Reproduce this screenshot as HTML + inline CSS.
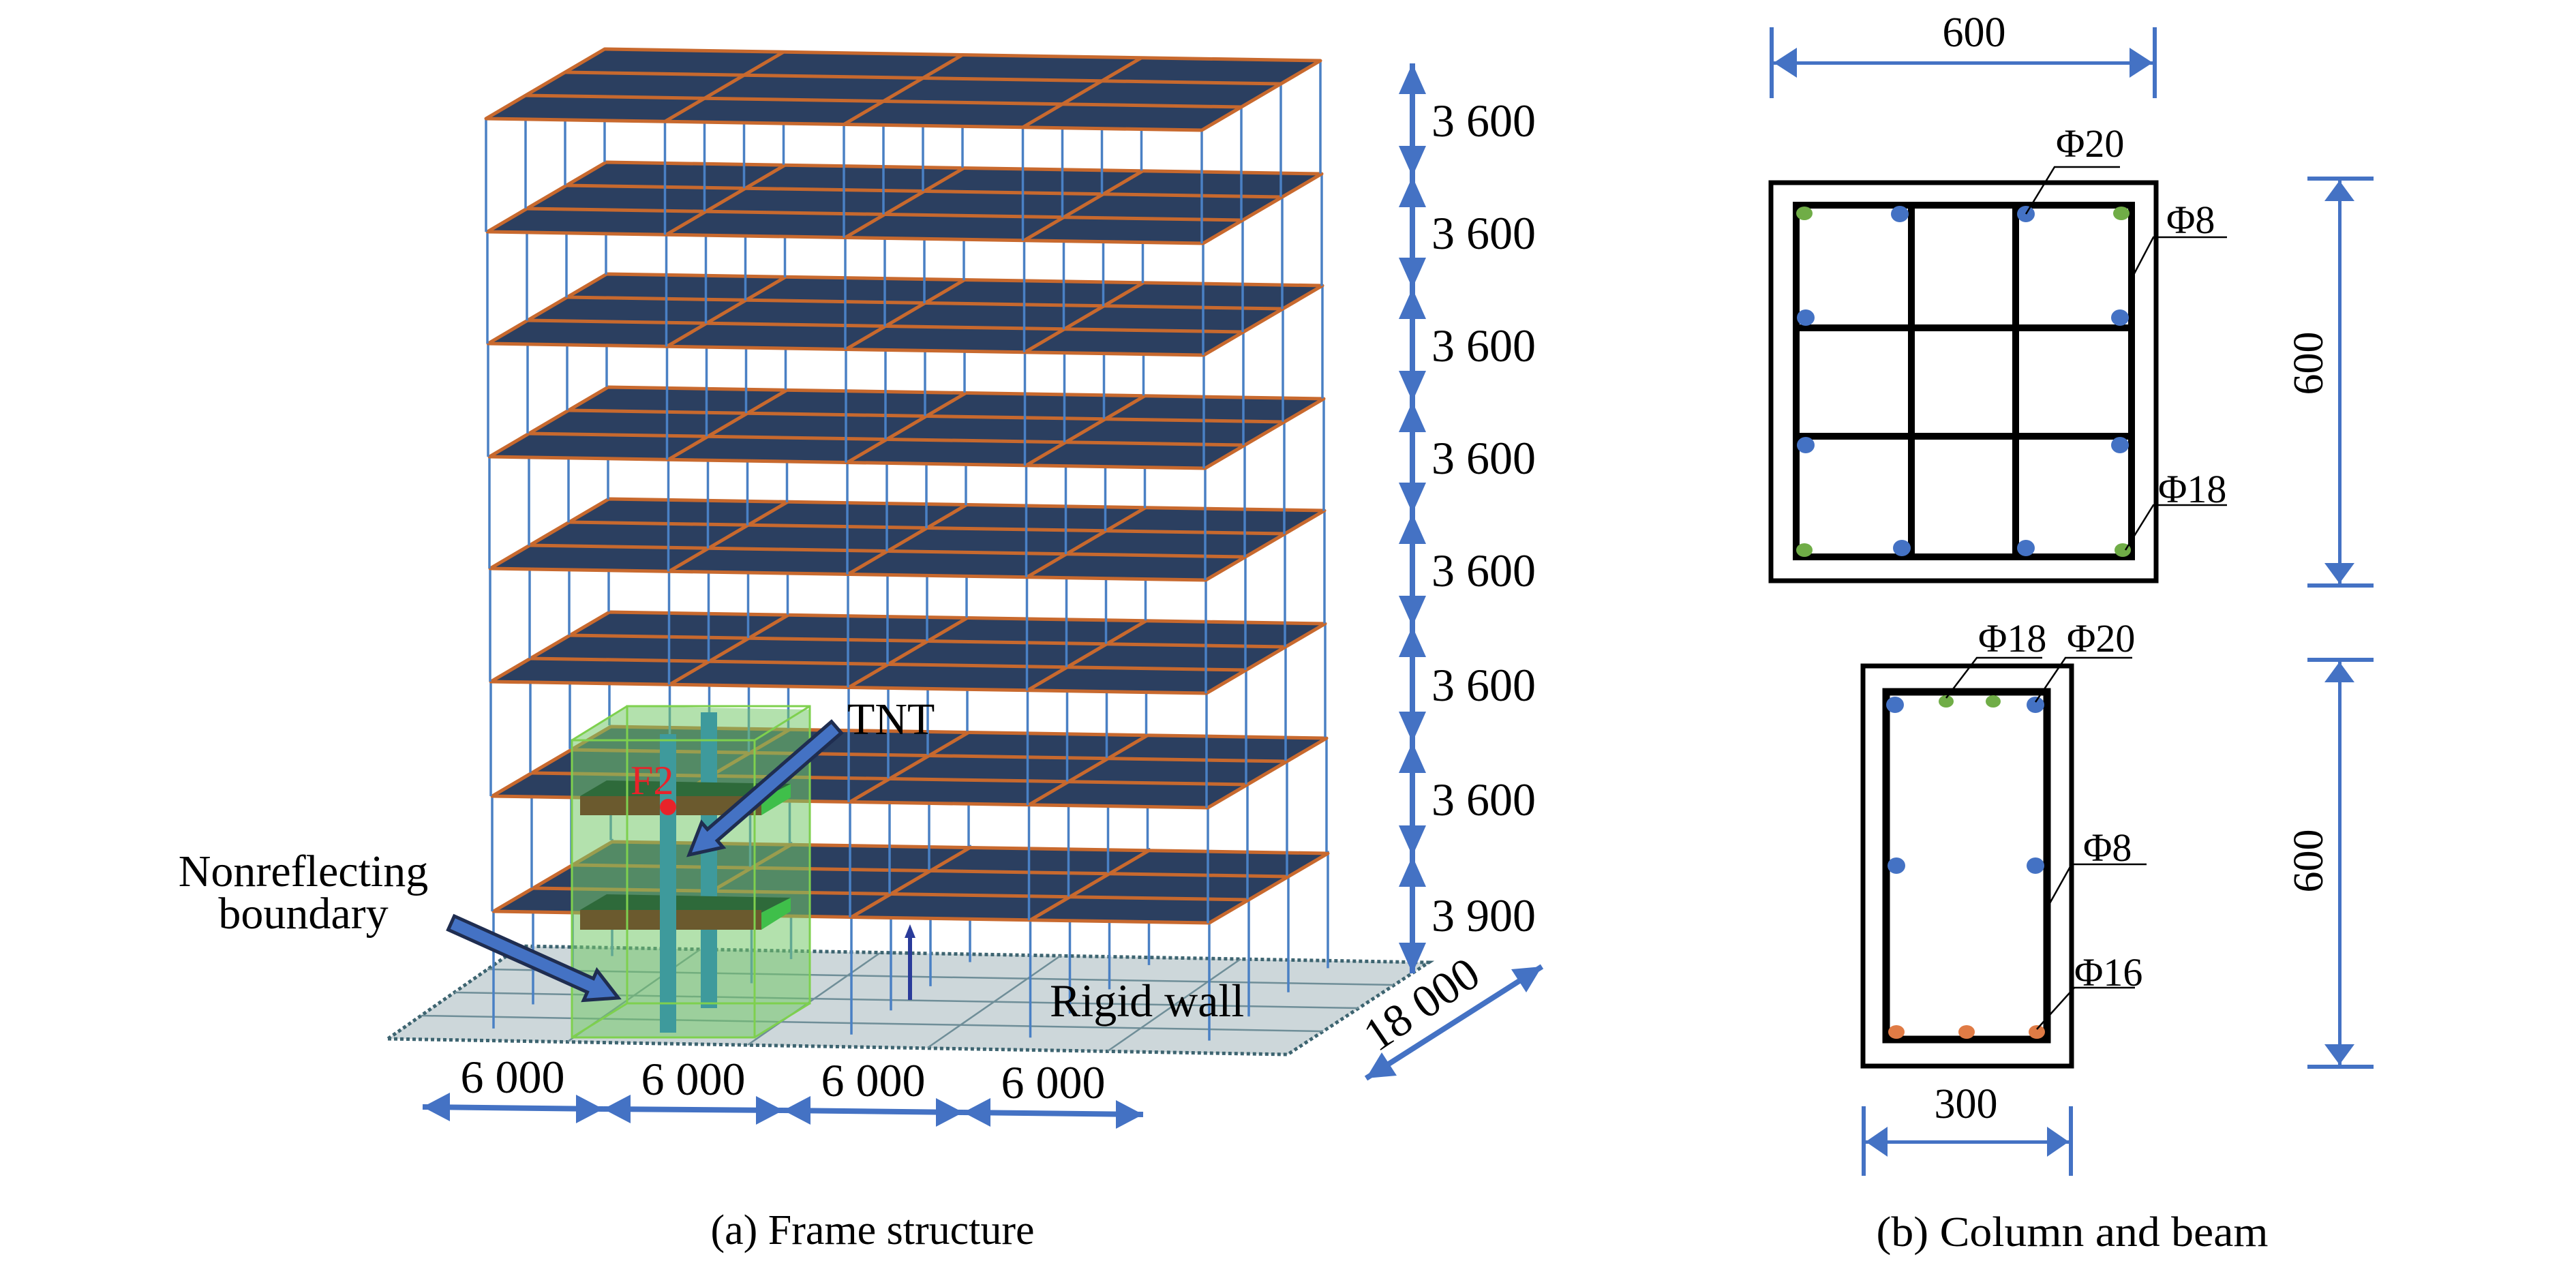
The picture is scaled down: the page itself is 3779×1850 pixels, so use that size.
<!DOCTYPE html>
<html><head><meta charset="utf-8"><style>html,body{margin:0;padding:0;background:#fff}svg{display:block}</style></head>
<body>
<svg xmlns="http://www.w3.org/2000/svg" xmlns:xlink="http://www.w3.org/1999/xlink" width="3779" height="1850" viewBox="0 0 3779 1850">
<defs>
<g id="slab">
<polygon points="0,0 1050,17 1224,-85 174,-102" fill="#2b3f60" stroke="#c8692e" stroke-width="5" stroke-linejoin="round"/>
<g stroke="#c8692e" stroke-width="5">
<line x1="262.5" y1="4.25" x2="436.5" y2="-97.75"/>
<line x1="525" y1="8.5" x2="699" y2="-93.5"/>
<line x1="787.5" y1="12.75" x2="961.5" y2="-89.25"/>
<line x1="58" y1="-34" x2="1108" y2="-17"/>
<line x1="116" y1="-68" x2="1166" y2="-51"/>
</g></g>
<g id="cols" stroke="#4a80c4" stroke-width="3.5">
<line x1="0" y1="0" x2="0" y2="165"/><line x1="58" y1="-34" x2="58" y2="131"/><line x1="116" y1="-68" x2="116" y2="97"/><line x1="174" y1="-102" x2="174" y2="63"/>
<line x1="262.5" y1="4.25" x2="262.5" y2="169.25"/><line x1="320.5" y1="-29.75" x2="320.5" y2="135.25"/><line x1="378.5" y1="-63.75" x2="378.5" y2="101.25"/><line x1="436.5" y1="-97.75" x2="436.5" y2="67.25"/>
<line x1="525" y1="8.5" x2="525" y2="173.5"/><line x1="583" y1="-25.5" x2="583" y2="139.5"/><line x1="641" y1="-59.5" x2="641" y2="105.5"/><line x1="699" y1="-93.5" x2="699" y2="71.5"/>
<line x1="787.5" y1="12.75" x2="787.5" y2="177.75"/><line x1="845.5" y1="-21.25" x2="845.5" y2="143.75"/><line x1="903.5" y1="-55.25" x2="903.5" y2="109.75"/><line x1="961.5" y1="-89.25" x2="961.5" y2="75.75"/>
<line x1="1050" y1="17" x2="1050" y2="182"/><line x1="1108" y1="-17" x2="1108" y2="148"/><line x1="1166" y1="-51" x2="1166" y2="114"/><line x1="1224" y1="-85" x2="1224" y2="80"/>
</g>
</defs>

<!-- ground plane -->
<polygon points="569,1524 1889,1547 2096,1412 764,1388" fill="#cdd7da" stroke="#3d6470" stroke-width="5" stroke-dasharray="5,4"/>
<g stroke="#6f8e98" stroke-width="2.5" fill="none">
<line x1="618" y1="1490" x2="1941" y2="1513"/><line x1="667" y1="1456" x2="1993" y2="1479"/><line x1="715" y1="1422" x2="2044" y2="1445"/>
<line x1="833" y1="1528" x2="1027" y2="1393"/><line x1="1097" y1="1533" x2="1291" y2="1398"/><line x1="1361" y1="1537" x2="1556" y2="1402"/><line x1="1625" y1="1542" x2="1820" y2="1407"/>
</g>

<!-- building -->
<use xlink:href="#cols" transform="translate(724,1337) scale(1,1.042)"/>
<use xlink:href="#slab" transform="translate(724,1337)"/>
<use xlink:href="#cols" transform="translate(722,1168) scale(1,1.024)"/>
<use xlink:href="#slab" transform="translate(722,1168)"/>
<use xlink:href="#cols" transform="translate(720,1000) scale(1,1.018)"/>
<use xlink:href="#slab" transform="translate(720,1000)"/>
<use xlink:href="#cols" transform="translate(719,834) scale(1,1.006)"/>
<use xlink:href="#slab" transform="translate(719,834)"/>
<use xlink:href="#cols" transform="translate(718,670) scale(1,0.994)"/>
<use xlink:href="#slab" transform="translate(718,670)"/>
<use xlink:href="#cols" transform="translate(716,504) scale(1,1.006)"/>
<use xlink:href="#slab" transform="translate(716,504)"/>
<use xlink:href="#cols" transform="translate(715,340) scale(1,0.994)"/>
<use xlink:href="#slab" transform="translate(715,340)"/>
<use xlink:href="#cols" transform="translate(713,174) scale(1,1.006)"/>
<use xlink:href="#slab" transform="translate(713,174)"/>

<!-- blast box -->
<polygon points="839,1086 920,1036 1188,1041 1188,1472 1107,1522 839,1522" fill="#74c96a" fill-opacity="0.55"/>
<rect x="1028" y="1045" width="24" height="434" fill="#3e9a9c"/>
<g>
<polygon points="851,1168 890,1145 1160,1150 1117,1172" fill="#2e6a3a"/>
<polygon points="1117,1172 1160,1150 1160,1170 1117,1196" fill="#3fbf4a"/>
<rect x="851" y="1168" width="266" height="28" fill="#6b5a2e"/>
<polygon points="851,1335 890,1312 1160,1317 1117,1339" fill="#2e6a3a"/>
<polygon points="1117,1339 1160,1317 1160,1337 1117,1364" fill="#3fbf4a"/>
<rect x="851" y="1335" width="266" height="29" fill="#6b5a2e"/>
</g>
<rect x="968" y="1077" width="24" height="438" fill="#3e9a9c"/>
<g fill="none" stroke="#7ed04e" stroke-width="3">
<rect x="839" y="1086" width="268" height="436"/>
<rect x="920" y="1036" width="268" height="436"/>
<line x1="839" y1="1086" x2="920" y2="1036"/><line x1="1107" y1="1086" x2="1188" y2="1036"/>
<line x1="839" y1="1522" x2="920" y2="1472"/><line x1="1107" y1="1522" x2="1188" y2="1472"/>
</g>
<circle cx="980" cy="1184" r="12" fill="#e8232a"/>
<text x="925" y="1165" font-family="Liberation Serif, serif" font-size="60" fill="#e8232a">F2</text>

<!-- small upward arrow -->
<line x1="1335" y1="1467" x2="1335" y2="1372" stroke="#2a3b9a" stroke-width="6"/>
<polygon points="1335,1356 1327,1376 1343,1376" fill="#2a3b9a"/>

<!-- fat arrows -->
<polygon points="1234.2,1075.3 1052.2,1233.3 1060.7,1243.1 1011,1254 1029.3,1206.9 1037.8,1216.7 1219.8,1058.7" fill="#4472c4" stroke="#1f2d50" stroke-width="5" stroke-linejoin="miter"/>
<polygon points="657.5,1364 861.5,1455.6 856.2,1467.5 907,1464 875.8,1423.7 870.5,1435.6 666.5,1344" fill="#4472c4" stroke="#1f2d50" stroke-width="5"/>

<g font-family="Liberation Serif, serif" fill="#000">
<text x="1243" y="1077" font-size="66">TNT</text>
<text x="445" y="1300" font-size="66" text-anchor="middle">Nonreflecting</text>
<text x="445" y="1362" font-size="66" text-anchor="middle">boundary</text>
<text x="1540" y="1491" font-size="68">Rigid wall</text>
<text x="1280" y="1825" font-size="62" text-anchor="middle">(a) Frame structure</text>
</g>

<!-- vertical dimensions -->
<g fill="#4472c4" stroke="none">
<rect x="2068" y="93" width="8" height="1335"/>
<polygon points="2072,93 2052,138 2092,138"/><polygon points="2072,259 2052,214 2092,214"/>
<polygon points="2072,259 2052,304 2092,304"/><polygon points="2072,423 2052,378 2092,378"/>
<polygon points="2072,423 2052,468 2092,468"/><polygon points="2072,589 2052,544 2092,544"/>
<polygon points="2072,589 2052,634 2092,634"/><polygon points="2072,753 2052,708 2092,708"/>
<polygon points="2072,753 2052,798 2092,798"/><polygon points="2072,919 2052,874 2092,874"/>
<polygon points="2072,919 2052,964 2092,964"/><polygon points="2072,1089 2052,1044 2092,1044"/>
<polygon points="2072,1089 2052,1134 2092,1134"/><polygon points="2072,1256 2052,1211 2092,1211"/>
<polygon points="2072,1256 2052,1301 2092,1301"/><polygon points="2072,1428 2052,1383 2092,1383"/>
</g>
<g font-family="Liberation Serif, serif" font-size="68" fill="#000">
<text x="2100" y="200">3 600</text>
<text x="2100" y="365">3 600</text>
<text x="2100" y="530">3 600</text>
<text x="2100" y="695">3 600</text>
<text x="2100" y="860">3 600</text>
<text x="2100" y="1028">3 600</text>
<text x="2100" y="1196">3 600</text>
<text x="2100" y="1366">3 900</text>
</g>

<!-- bottom dims -->
<g fill="#4472c4" stroke="#4472c4">
<line x1="620" y1="1624" x2="885" y2="1627" stroke-width="8"/>
<line x1="885" y1="1627" x2="1149" y2="1629" stroke-width="8"/>
<line x1="1149" y1="1629" x2="1413" y2="1632" stroke-width="8"/>
<line x1="1413" y1="1632" x2="1677" y2="1635" stroke-width="8"/>
<g stroke="none">
<polygon points="620,1624 660,1603 660,1645"/><polygon points="885,1627 845,1606 845,1648"/>
<polygon points="885,1627 925,1606 925,1648"/><polygon points="1149,1629 1109,1608 1109,1650"/>
<polygon points="1149,1629 1189,1608 1189,1650"/><polygon points="1413,1632 1373,1611 1373,1653"/>
<polygon points="1413,1632 1453,1611 1453,1653"/><polygon points="1677,1635 1637,1614 1637,1656"/>
</g>
<line x1="2004" y1="1582" x2="2262" y2="1418" stroke-width="8"/>
<g stroke="none">
<polygon points="2004,1582 2027,1544 2049,1578"/>
<polygon points="2262,1418 2217,1422 2239,1456"/>
</g>
</g>
<g font-family="Liberation Serif, serif" font-size="68" fill="#000" text-anchor="middle">
<text x="752" y="1603">6 000</text>
<text x="1017" y="1606">6 000</text>
<text x="1281" y="1608">6 000</text>
<text x="1545" y="1611">6 000</text>
<text x="0" y="0" transform="translate(2098,1492) rotate(-34)">18 000</text>
</g>

<!-- right panel: column -->
<g fill="#4472c4">
<rect x="2596" y="40" width="6" height="104"/><rect x="3158" y="40" width="6" height="104"/>
<rect x="2602" y="90" width="556" height="5"/>
<polygon points="2602,92 2636,70 2636,114"/><polygon points="3158,92 3124,70 3124,114"/>
<rect x="3385" y="259" width="97" height="6"/><rect x="3385" y="856" width="97" height="6"/>
<rect x="3430" y="265" width="5" height="591"/>
<polygon points="3432,265 3410,295 3454,295"/><polygon points="3432,856 3410,826 3454,826"/>
<rect x="3385" y="965" width="97" height="6"/><rect x="3385" y="1562" width="97" height="6"/>
<rect x="3430" y="971" width="5" height="591"/>
<polygon points="3432,971 3410,1001 3454,1001"/><polygon points="3432,1562 3410,1532 3454,1532"/>
<rect x="2731" y="1623" width="6" height="102"/><rect x="3035" y="1623" width="6" height="102"/>
<rect x="2737" y="1673" width="298" height="5"/>
<polygon points="2737,1675 2769,1653 2769,1697"/><polygon points="3035,1675 3003,1653 3003,1697"/>
</g>
<rect x="2598" y="268" width="565" height="584" fill="none" stroke="#000" stroke-width="7"/>
<g stroke="#000" stroke-width="10" fill="none">
<rect x="2635" y="301" width="492" height="516"/>
<line x1="2804" y1="301" x2="2804" y2="817"/><line x1="2957" y1="301" x2="2957" y2="817"/>
<line x1="2635" y1="481" x2="3127" y2="481"/><line x1="2635" y1="640" x2="3127" y2="640"/>
</g>
<g>
<ellipse cx="2647" cy="313" rx="12" ry="10" fill="#70ad47"/><ellipse cx="3112" cy="313" rx="12" ry="10" fill="#70ad47"/>
<ellipse cx="2647" cy="807" rx="12" ry="10" fill="#70ad47"/><ellipse cx="3114" cy="807" rx="12" ry="10" fill="#70ad47"/>
<g fill="#4472c4">
<ellipse cx="2787" cy="314" rx="13" ry="12"/><ellipse cx="2972" cy="314" rx="13" ry="12"/>
<ellipse cx="2649" cy="466" rx="13" ry="12"/><ellipse cx="3110" cy="466" rx="13" ry="12"/>
<ellipse cx="2649" cy="653" rx="13" ry="12"/><ellipse cx="3110" cy="653" rx="13" ry="12"/>
<ellipse cx="2790" cy="804" rx="13" ry="12"/><ellipse cx="2972" cy="804" rx="13" ry="12"/>
</g></g>
<!-- beam -->
<rect x="2733" y="977" width="306" height="587" fill="none" stroke="#000" stroke-width="7"/>
<rect x="2767" y="1015" width="236" height="510" fill="none" stroke="#000" stroke-width="11"/>
<g fill="#4472c4"><ellipse cx="2780" cy="1034" rx="13" ry="12"/><ellipse cx="2986" cy="1034" rx="13" ry="12"/>
<ellipse cx="2782" cy="1270" rx="13" ry="12"/><ellipse cx="2986" cy="1270" rx="13" ry="12"/></g>
<g fill="#70ad47"><ellipse cx="2855" cy="1029" rx="11" ry="9"/><ellipse cx="2924" cy="1029" rx="11" ry="9"/></g>
<g fill="#e07b45"><ellipse cx="2782" cy="1514" rx="12" ry="10"/><ellipse cx="2885" cy="1514" rx="12" ry="10"/><ellipse cx="2988" cy="1514" rx="12" ry="10"/></g>
<!-- leaders -->
<g stroke="#000" stroke-width="2.5" fill="none">
<polyline points="3110,245 3014,245 2972,314"/>
<polyline points="3267,348 3159,348 3128,407"/>
<polyline points="3267,741 3159,741 3118,807"/>
<polyline points="2996,965 2900,965 2855,1024"/>
<polyline points="3128,965 3030,965 2986,1030"/>
<polyline points="3149,1268 3039,1268 3006,1327"/>
<polyline points="3132,1449 3043,1449 2988,1510"/>
</g>
<g font-family="Liberation Serif, serif" font-size="58" fill="#000">
<text x="2896" y="68" text-anchor="middle" font-size="62">600</text>
<text x="3016" y="230">Φ20</text>
<text x="3178" y="342">Φ8</text>
<text x="3166" y="737">Φ18</text>
<text x="2902" y="956">Φ18</text>
<text x="3032" y="956">Φ20</text>
<text x="3056" y="1263">Φ8</text>
<text x="3043" y="1446">Φ16</text>
<text x="2884" y="1640" text-anchor="middle" font-size="62">300</text>
<text transform="translate(3407,533) rotate(-90)" text-anchor="middle" font-size="62">600</text>
<text transform="translate(3407,1263) rotate(-90)" text-anchor="middle" font-size="62">600</text>
<text x="3040" y="1828" text-anchor="middle" font-size="62" textLength="575" lengthAdjust="spacingAndGlyphs">(b) Column and beam</text>
</g>
</svg>
</body></html>
